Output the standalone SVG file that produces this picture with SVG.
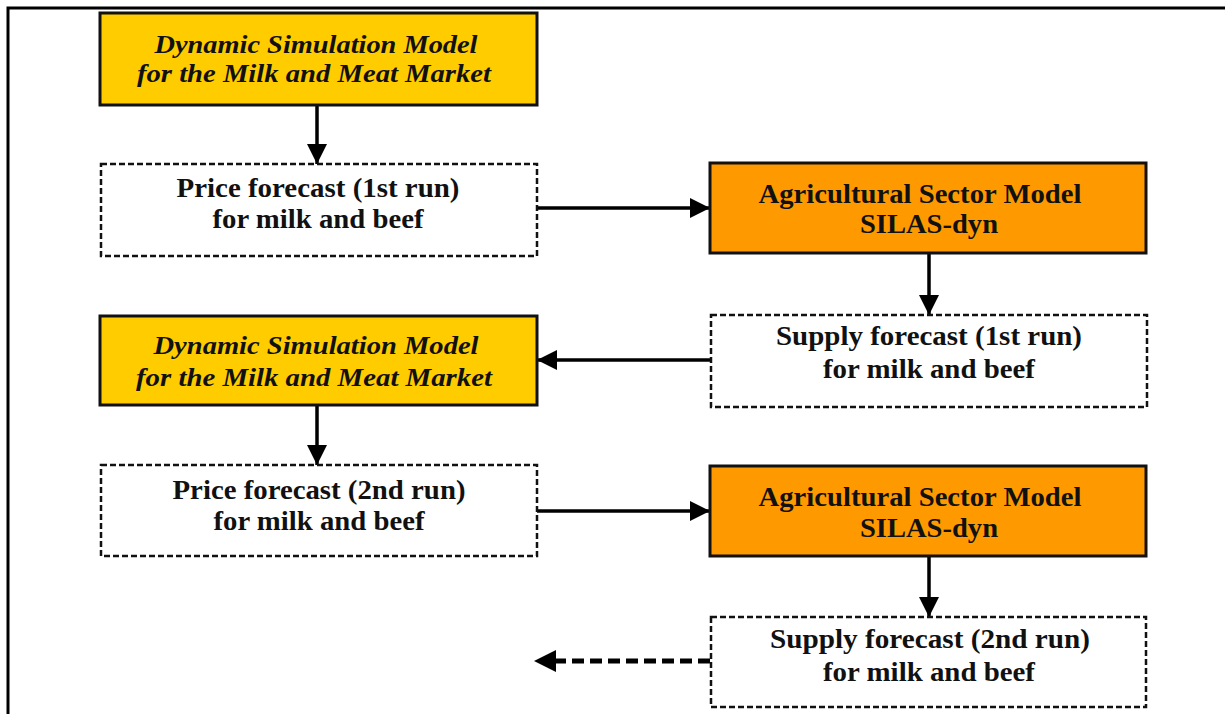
<svg xmlns="http://www.w3.org/2000/svg" width="1225" height="714" viewBox="0 0 1225 714">
  <style>
    .bg { fill: #ffffff; }
    .frame { stroke: #000; stroke-width: 3; fill: none; }
    .yellow { fill: #FFCC00; stroke: #111; stroke-width: 3; }
    .orange { fill: #FF9900; stroke: #111; stroke-width: 3; }
    .dash { fill: #ffffff; stroke: #111; stroke-width: 2.5; stroke-dasharray: 6 3; }
    .it { font-style: italic; font-weight: 700; font-size: 26px; fill: #111; text-anchor: middle; }
    .bd { font-weight: 700; font-size: 28px; fill: #111; text-anchor: middle; }
    .conn { stroke: #000; stroke-width: 3.5; fill: none; }
    .conn-dash { stroke: #000; stroke-width: 5; fill: none; stroke-dasharray: 12 6; }
  </style>
  <defs>
    <marker id="arrow" markerUnits="userSpaceOnUse" markerWidth="22" markerHeight="22" refX="20" refY="10" orient="auto" viewBox="0 0 22 20">
      <path d="M0,0 L20,10 L0,20 z" fill="#000"/>
    </marker>
  </defs>
  <rect class="bg" x="0" y="0" width="1225" height="714"/>
  <g id="frame">
    <path class="frame" d="M8,714 L8,8 L1225,8"/>
  </g>

  <g id="connectors">
    <line class="conn" x1="317" y1="105" x2="317" y2="164" marker-end="url(#arrow)"/>
    <line class="conn" x1="537" y1="208" x2="710" y2="208" marker-end="url(#arrow)"/>
    <line class="conn" x1="929" y1="253" x2="929" y2="315" marker-end="url(#arrow)"/>
    <line class="conn" x1="711" y1="360" x2="537" y2="360" marker-end="url(#arrow)"/>
    <line class="conn" x1="317" y1="405" x2="317" y2="465" marker-end="url(#arrow)"/>
    <line class="conn" x1="537" y1="511" x2="710" y2="511" marker-end="url(#arrow)"/>
    <line class="conn" x1="929" y1="556" x2="929" y2="617" marker-end="url(#arrow)"/>
    <line class="conn-dash" x1="710" y1="661" x2="552" y2="661"/>
    <path d="M534,661 L556,650 L556,672 z" fill="#000"/>
  </g>

  <g font-family="Liberation Serif, serif">
  <g id="node-dsm1">
    <rect class="yellow" x="100" y="13" width="437" height="92"/>
    <text class="it" x="316" y="53" textLength="323" lengthAdjust="spacingAndGlyphs">Dynamic Simulation Model</text>
    <text class="it" x="314" y="82" textLength="354" lengthAdjust="spacingAndGlyphs">for the Milk and Meat Market</text>
  </g>
  <g id="node-price1">
    <rect class="dash" x="101" y="164" width="436" height="92"/>
    <text class="bd" x="318" y="197" textLength="283" lengthAdjust="spacingAndGlyphs">Price forecast (1st run)</text>
    <text class="bd" x="318" y="228" textLength="211" lengthAdjust="spacingAndGlyphs">for milk and beef</text>
  </g>
  <g id="node-asm1">
    <rect class="orange" x="710" y="163" width="436" height="90"/>
    <text class="bd" x="920" y="203" textLength="323" lengthAdjust="spacingAndGlyphs">Agricultural Sector Model</text>
    <text class="bd" x="929" y="233" textLength="138" lengthAdjust="spacingAndGlyphs">SILAS-dyn</text>
  </g>
  <g id="node-supply1">
    <rect class="dash" x="711" y="315" width="436" height="92"/>
    <text class="bd" x="929" y="345" textLength="306" lengthAdjust="spacingAndGlyphs">Supply forecast (1st run)</text>
    <text class="bd" x="929" y="378" textLength="212" lengthAdjust="spacingAndGlyphs">for milk and beef</text>
  </g>
  <g id="node-dsm2">
    <rect class="yellow" x="100" y="316" width="437" height="89"/>
    <text class="it" x="316" y="354" textLength="325" lengthAdjust="spacingAndGlyphs">Dynamic Simulation Model</text>
    <text class="it" x="314" y="386" textLength="356" lengthAdjust="spacingAndGlyphs">for the Milk and Meat Market</text>
  </g>
  <g id="node-price2">
    <rect class="dash" x="101" y="465" width="436" height="91"/>
    <text class="bd" x="319" y="499" textLength="293" lengthAdjust="spacingAndGlyphs">Price forecast (2nd run)</text>
    <text class="bd" x="319" y="530" textLength="211" lengthAdjust="spacingAndGlyphs">for milk and beef</text>
  </g>
  <g id="node-asm2">
    <rect class="orange" x="710" y="466" width="436" height="90"/>
    <text class="bd" x="920" y="506" textLength="323" lengthAdjust="spacingAndGlyphs">Agricultural Sector Model</text>
    <text class="bd" x="929" y="537" textLength="138" lengthAdjust="spacingAndGlyphs">SILAS-dyn</text>
  </g>
  <g id="node-supply2">
    <rect class="dash" x="711" y="617" width="435" height="90"/>
    <text class="bd" x="930" y="648" textLength="320" lengthAdjust="spacingAndGlyphs">Supply forecast (2nd run)</text>
    <text class="bd" x="929" y="681" textLength="212" lengthAdjust="spacingAndGlyphs">for milk and beef</text>
  </g>
  </g>
</svg>
